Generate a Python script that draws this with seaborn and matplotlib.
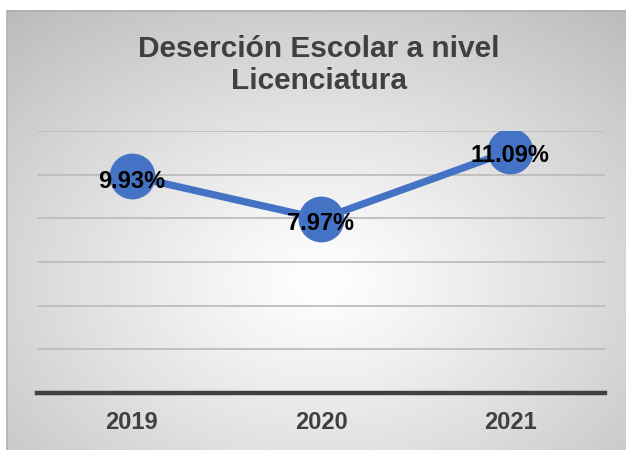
import numpy as np
import pandas as pd
import matplotlib
matplotlib.use("Agg")
import matplotlib.pyplot as plt
import seaborn as sns
from matplotlib.patches import Rectangle

years = ["2019", "2020", "2021"]
rates = [9.93, 7.97, 11.09]
labels = ["9.93%", "7.97%", "11.09%"]
title = "Deserción Escolar a nivel\nLicenciatura"

sns.set_theme(style="white")
plt.rcParams['font.family'] = ['Liberation Sans', 'DejaVu Sans']

W, H = 626, 450
fig = plt.figure(figsize=(W / 100, H / 100), dpi=100)
fig.patch.set_facecolor("white")

# background radial gradient (chart area from x=7, y=10)
bx0, by0 = 7, 10
bg = fig.add_axes([bx0 / W, 0, (W - bx0) / W, (H - by0) / H], zorder=0)
gw, gh = W - bx0, H - by0
yy, xx = np.mgrid[0:gh, 0:gw]
cx, cy = 320 - bx0, 280 - by0
r = np.sqrt(((xx - cx) / 313.0) ** 2 + ((yy - cy) / 230.0) ** 2) / np.sqrt(2)
val = np.clip(255 - 62 * r ** 1.15, 0, 255) / 255.0
img = np.dstack([val, val, val])
bg.imshow(img, aspect="auto", interpolation="bilinear")
bg.set_axis_off()

# border (top and left)
fig.patches.append(Rectangle((bx0 / W, -0.01), (W - bx0) / W + 0.01, (H - by0) / H + 0.01 - 0.5 / H,
                             transform=fig.transFigure, fill=False, edgecolor="#b0b0b0",
                             linewidth=1.2, zorder=1))

ax = fig.add_axes([37 / W, 57 / H, 568 / W, 262 / H], zorder=2)
ax.patch.set_alpha(0)

df = pd.DataFrame({"year": years, "rate": rates})
sns.lineplot(data=df, x="year", y="rate", ax=ax, color="#4472C4", linewidth=5.2,
             marker="o", markersize=33, markeredgewidth=0, zorder=3)

ax.set_xlim(-0.5, 2.5)
ax.set_ylim(0, 12)
ax.set_yticks(np.arange(0, 13, 2))
ax.yaxis.grid(True, color="#bdbdbd", linewidth=1.3)
ax.set_axisbelow(True)
ax.tick_params(axis="y", left=False, labelleft=False)
ax.tick_params(axis="x", bottom=False, pad=7)
for s in ["top", "right", "left"]:
    ax.spines[s].set_visible(False)
ax.spines["bottom"].set_color("#404040")
ax.spines["bottom"].set_linewidth(3.2)
ax.spines["bottom"].set_zorder(4)
ax.set_xlabel("")
ax.set_ylabel("")
for t in ax.get_xticklabels():
    t.set_fontsize(17)
    t.set_fontweight("bold")
    t.set_color("#404040")

for i, (v, lab) in enumerate(zip(rates, labels)):
    ax.annotate(lab, (i, v), xytext=(0, -3.5), textcoords="offset points",
                ha="center", va="center", fontsize=17, fontweight="bold",
                color="black", zorder=5)

fig.text(319 / W, 1 - 65 / H, title, ha="center", va="center", fontsize=21.5,
         fontweight="bold", color="#404040", linespacing=1.2)

fig.savefig("out.png", dpi=100)
